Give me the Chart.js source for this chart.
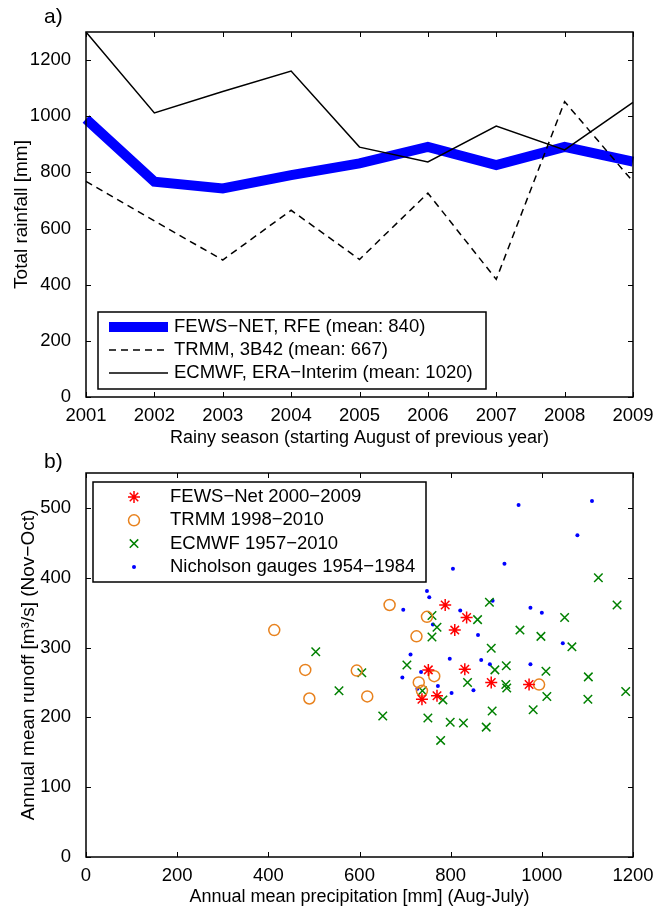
<!DOCTYPE html>
<html>
<head>
<meta charset="utf-8">
<script src="https://cdn.jsdelivr.net/npm/chart.js@4.4.0/dist/chart.umd.min.js"></script>
<style>
  html, body { margin: 0; padding: 0; background: #fff; overflow: hidden; }
  #rainfall-chart { position: absolute; left: 0; top: 0; }
  #runoff-chart { position: absolute; left: 0; top: 450px; }
</style>
</head>
<body>
<canvas id="rainfall-chart" width="658" height="450"></canvas>
<canvas id="runoff-chart" width="658" height="458"></canvas>
<script>
// panel a) total rainfall per rainy season
const seasons = ['2001', '2002', '2003', '2004', '2005', '2006', '2007', '2008', '2009'];
const fewsRfe = [990, 767, 743, 790, 832, 891, 826, 891, 838];
const trmm3b42 = [768, 627, 488, 665, 490, 726, 419, 1052, 767];
const eraInterim = [1300, 1012, 1088, 1161, 890, 837, 965, 880, 1049];

// panel b) precipitation (x) vs runoff (y)
const fewsPrecip = [788, 835, 809, 751, 831, 889, 972, 770, 737];
const fewsRunoff = [361, 343, 325, 268, 269, 250, 247, 231, 226];
const trmmPrecip = [666, 748, 725, 764, 730, 737, 994, 413, 481, 594, 490, 617];
const trmmRunoff = [361, 344, 316, 259, 250, 238, 247, 325, 268, 267, 227, 230];
const ecmwfPrecip = [1124, 1165, 885, 859, 759, 770, 952, 1050, 998, 759, 1066, 889, 704, 897, 922, 1009, 1102, 837,
    921, 923, 1184, 1011, 1101, 738, 783, 651, 750, 799, 828, 878, 891, 981, 778, 504, 605, 555];
const ecmwfRunoff = [400, 361, 365, 340, 346, 329, 325, 343, 316, 315, 301, 299, 275, 268, 274, 266, 258, 250,
    247, 242, 237, 230, 226, 238, 225, 202, 199, 193, 192, 186, 209, 211, 167, 294, 264, 238];
const gaugePrecip = [1078, 805, 918, 748, 753, 892, 696, 821, 975, 1000, 761, 860, 1046, 712, 798, 867, 886, 975,
    694, 735, 772, 727, 850, 802, 949, 1110];
const gaugeRunoff = [461, 413, 420, 381, 372, 367, 354, 353, 357, 350, 333, 318, 306, 290, 284, 282, 276, 276,
    257, 265, 245, 241, 239, 235, 504, 510];

const toPoints = (xs, ys) => xs.map((x, i) => ({ x: x, y: ys[i] }));
const plainNumber = (value) => String(value);   // no "1,200" separators

Chart.defaults.font.family = "'Liberation Sans', Arial, sans-serif";
Chart.defaults.font.size = 18.5;
Chart.defaults.color = '#000';
Chart.defaults.animation = false;

// matlab style box with ticks pointing inward on all four sides
const matlabFrame = {
    id: 'matlabFrame',
    afterDatasetsDraw(chart) {
        const { ctx, chartArea: a, scales } = chart;
        const len = 5;
        ctx.save();
        ctx.strokeStyle = '#000';
        ctx.lineWidth = 1;
        ctx.beginPath();
        scales.x.ticks.forEach((t, i) => {
            const px = Math.round(scales.x.getPixelForTick(i)) + 0.5;
            ctx.moveTo(px, a.bottom); ctx.lineTo(px, a.bottom - len);
            ctx.moveTo(px, a.top); ctx.lineTo(px, a.top + len);
        });
        scales.y.ticks.forEach((t, i) => {
            const py = Math.round(scales.y.getPixelForTick(i)) + 0.5;
            ctx.moveTo(a.left, py); ctx.lineTo(a.left + len, py);
            ctx.moveTo(a.right, py); ctx.lineTo(a.right - len, py);
        });
        ctx.stroke();
        ctx.lineWidth = 1.5;
        ctx.strokeRect(a.left, a.top, a.right - a.left, a.bottom - a.top);
        ctx.restore();
    }
};

// legend box sitting inside the axes, like the matlab one
const boxLegend = {
    id: 'boxLegend',
    afterDraw(chart, args, opts) {
        const ctx = chart.ctx;
        ctx.save();
        ctx.fillStyle = '#fff';
        ctx.fillRect(opts.x, opts.y, opts.width, opts.height);
        ctx.strokeStyle = '#000';
        ctx.lineWidth = 1.5;
        ctx.strokeRect(opts.x, opts.y, opts.width, opts.height);
        chart.data.datasets.forEach((ds, i) => {
            const cy = opts.y + opts.firstRow + i * opts.rowHeight;
            ctx.strokeStyle = ds.borderColor;
            ctx.fillStyle = ds.backgroundColor;
            ctx.lineWidth = ds.borderWidth;
            if (opts.kind === 'line') {
                ctx.setLineDash(ds.borderDash || []);
                ctx.beginPath();
                ctx.moveTo(opts.swatchFrom, cy);
                ctx.lineTo(opts.swatchTo, cy);
                ctx.stroke();
                ctx.setLineDash([]);
            } else {
                Chart.helpers.drawPoint(ctx, {
                    pointStyle: ds.pointStyle,
                    radius: ds.pointRadius,
                    rotation: 0,
                    borderWidth: ds.borderWidth
                }, opts.markerX, cy);
            }
            ctx.fillStyle = '#000';
            ctx.font = opts.font;
            ctx.textBaseline = 'middle';
            ctx.textAlign = 'left';
            ctx.fillText(ds.label, opts.textX, cy);
        });
        ctx.restore();
    }
};

// "a)" / "b)" panel letters
const panelTag = {
    id: 'panelTag',
    afterDraw(chart, args, opts) {
        const ctx = chart.ctx;
        ctx.save();
        ctx.font = "21px 'Liberation Sans', Arial, sans-serif";
        ctx.fillStyle = '#000';
        ctx.textBaseline = 'middle';
        ctx.fillText(opts.text, opts.x, opts.y);
        ctx.restore();
    }
};

// panel a
const rain = document.getElementById('rainfall-chart');
new Chart(rain, {
    type: 'line',
    data: {
        labels: seasons,
        datasets: [{
            label: 'FEWS\u2212NET, RFE (mean: 840)',
            data: fewsRfe,
            borderColor: '#0000ff',
            backgroundColor: '#0000ff',
            borderWidth: 10,
            pointRadius: 0,
            order: 3
        }, {
            label: 'TRMM, 3B42 (mean: 667)',
            data: trmm3b42,
            borderColor: '#000',
            backgroundColor: '#000',
            borderWidth: 1.5,
            borderDash: [7, 5],
            pointRadius: 0,
            order: 2
        }, {
            label: 'ECMWF, ERA\u2212Interim (mean: 1020)',
            data: eraInterim,
            borderColor: '#000',
            backgroundColor: '#000',
            borderWidth: 1.5,
            pointRadius: 0,
            order: 1
        }]
    },
    options: {
        responsive: false,
        layout: { padding: { top: 32, right: 25, left: 0, bottom: 0 } },
        scales: {
            x: {
                grid: { display: false },
                border: { display: false },
                ticks: { padding: 0, maxRotation: 0, autoSkip: false },
                title: {
                    display: true,
                    text: 'Rainy season (starting August of previous year)',
                    font: { size: 18, lineHeight: 1 },
                    padding: { top: 0, bottom: 3 }
                },
                afterFit: (scale) => { scale.height = 53; }
            },
            y: {
                min: 0,
                max: 1300,
                grid: { display: false },
                border: { display: false },
                ticks: { stepSize: 200, padding: 7, includeBounds: false, callback: plainNumber },
                title: {
                    display: true,
                    text: 'Total rainfall [mm]',
                    font: { size: 19, lineHeight: 1 },
                    padding: { top: 12, bottom: 0 }
                },
                afterFit: (scale) => { scale.width = 86; }
            }
        },
        plugins: {
            legend: { display: false },
            tooltip: { enabled: false },
            boxLegend: {
                kind: 'line', x: 98, y: 312, width: 388, height: 77,
                firstRow: 15, rowHeight: 23, swatchFrom: 109, swatchTo: 168, textX: 174,
                font: "18.5px 'Liberation Sans', Arial, sans-serif"
            },
            panelTag: { text: 'a)', x: 44, y: 17 }
        }
    },
    plugins: [matlabFrame, boxLegend, panelTag]
});

// panel b
const runoff = document.getElementById('runoff-chart');
new Chart(runoff, {
    type: 'scatter',
    data: {
        datasets: [{
            label: 'FEWS\u2212Net 2000\u22122009',
            data: toPoints(fewsPrecip, fewsRunoff),
            pointStyle: 'star',
            pointRadius: 6,
            borderColor: '#ff0000',
            backgroundColor: '#ff0000',
            borderWidth: 1.5
        }, {
            label: 'TRMM 1998\u22122010',
            data: toPoints(trmmPrecip, trmmRunoff),
            pointStyle: 'circle',
            pointRadius: 5.5,
            borderColor: '#e8821e',
            backgroundColor: 'rgba(0,0,0,0)',
            borderWidth: 1.5
        }, {
            label: 'ECMWF 1957\u22122010',
            data: toPoints(ecmwfPrecip, ecmwfRunoff),
            pointStyle: 'crossRot',
            pointRadius: 6,
            borderColor: '#008000',
            backgroundColor: '#008000',
            borderWidth: 1.5
        }, {
            label: 'Nicholson gauges 1954\u22121984',
            data: toPoints(gaugePrecip, gaugeRunoff),
            pointStyle: 'circle',
            pointRadius: 2,
            borderColor: '#0000ff',
            backgroundColor: '#0000ff',
            borderWidth: 0
        }]
    },
    options: {
        responsive: false,
        layout: { padding: { top: 23, right: 25, left: 0, bottom: 0 } },
        scales: {
            x: {
                type: 'linear',
                min: 0,
                max: 1200,
                grid: { display: false },
                border: { display: false },
                ticks: { stepSize: 200, padding: 0, maxRotation: 0, callback: plainNumber },
                title: {
                    display: true,
                    text: 'Annual mean precipitation [mm] (Aug-July)',
                    font: { size: 18, lineHeight: 1 },
                    padding: { top: 0, bottom: 2 }
                },
                afterFit: (scale) => { scale.height = 51; }
            },
            y: {
                min: 0,
                max: 550,
                grid: { display: false },
                border: { display: false },
                ticks: { stepSize: 100, padding: 7, includeBounds: false, callback: plainNumber },
                title: {
                    display: true,
                    text: 'Annual mean runoff [m\u00b3/s] (Nov\u2212Oct)',
                    font: { size: 19, lineHeight: 1 },
                    padding: { top: 19, bottom: 0 }
                },
                afterFit: (scale) => { scale.width = 86; }
            }
        },
        plugins: {
            legend: { display: false },
            tooltip: { enabled: false },
            boxLegend: {
                kind: 'point', x: 93, y: 32, width: 333, height: 100,
                firstRow: 15, rowHeight: 23.3, markerX: 134, textX: 170,
                font: "18.5px 'Liberation Sans', Arial, sans-serif"
            },
            panelTag: { text: 'b)', x: 44, y: 12 }
        }
    },
    plugins: [matlabFrame, boxLegend, panelTag]
});
</script>
</body>
</html>
